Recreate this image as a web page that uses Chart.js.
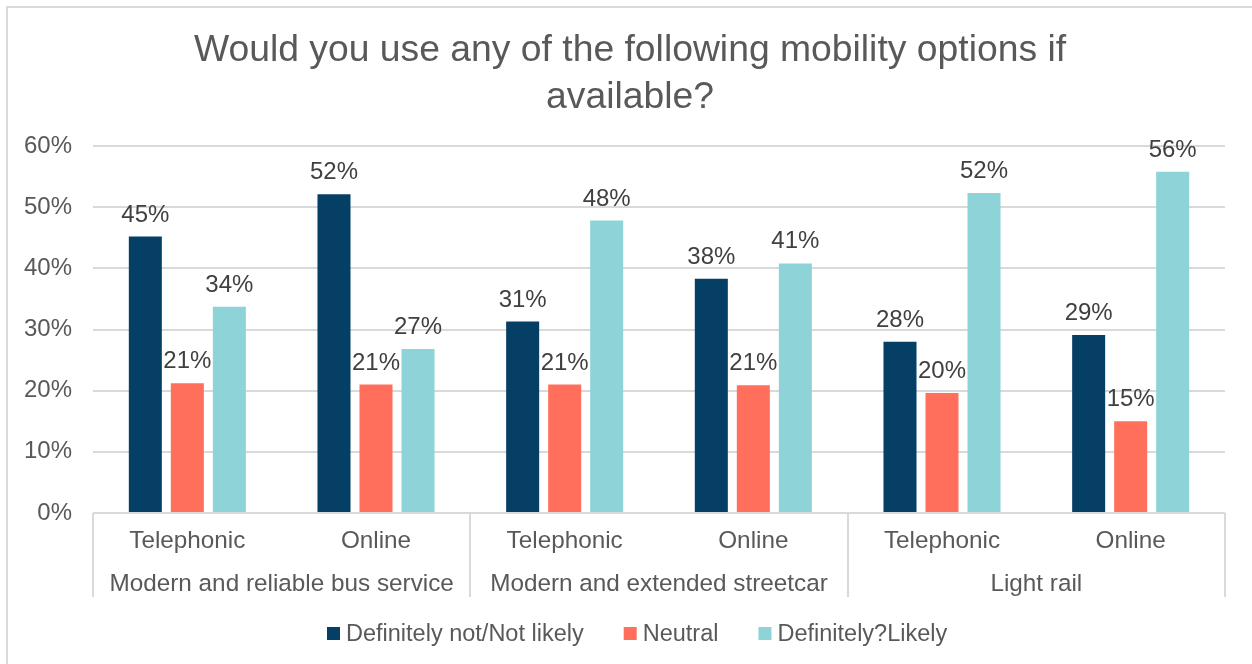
<!DOCTYPE html>
<html>
<head>
<meta charset="utf-8">
<script src="https://cdn.jsdelivr.net/npm/chart.js@4.4.1/dist/chart.umd.min.js"></script>
<style>
  html, body { margin: 0; padding: 0; background: #fff; overflow: hidden; }
  #wrap { position: relative; width: 1252px; height: 664px; }
  #frame { position: absolute; left: 6px; top: 6px; width: 1300px; height: 700px; border: 2px solid #d9d9d9; box-sizing: border-box; }
  canvas { position: absolute; left: 0; top: 0; }
</style>
</head>
<body>
<div id="wrap">
  <div id="frame"></div>
  <canvas id="c" width="1252" height="664"></canvas>
</div>
<script>
const titleLines = ['Would you use any of the following mobility options if', 'available?'];
const subCategories = ['Telephonic', 'Online', 'Telephonic', 'Online', 'Telephonic', 'Online'];
const groups = ['Modern and reliable bus service', 'Modern and extended streetcar', 'Light rail'];
const seriesNames = ['Definitely not/Not likely', 'Neutral', 'Definitely?Likely'];
const notLikely = [45.2, 52.1, 31.3, 38.3, 28.0, 29.1];
const neutral   = [21.2, 21.0, 21.0, 20.9, 19.6, 15.0];
const likely    = [33.7, 26.8, 47.8, 40.8, 52.3, 55.8];
const yTicks = [0, 10, 20, 30, 40, 50, 60];
const colors = ['#063F66', '#FF6F5B', '#8DD3D7'];

const FONT = 'Liberation Sans, Arial, sans-serif';
const TEXT = '#595959';

const titlePlugin = {
  id: 'titleDraw',
  afterDraw(chart) {
    const ctx = chart.ctx;
    ctx.save();
    ctx.fillStyle = TEXT;
    ctx.font = '37.3px ' + FONT;
    ctx.textAlign = 'center';
    ctx.textBaseline = 'alphabetic';
    ctx.fillText(titleLines[0], 630, 61);
    ctx.fillText(titleLines[1], 630, 108);
    ctx.restore();
  }
};

const labelPlugin = {
  id: 'barLabels',
  afterDatasetsDraw(chart) {
    const ctx = chart.ctx;
    ctx.save();
    ctx.fillStyle = '#404040';
    ctx.font = '24px ' + FONT;
    ctx.textAlign = 'center';
    ctx.textBaseline = 'alphabetic';
    chart.data.datasets.forEach((ds, i) => {
      const meta = chart.getDatasetMeta(i);
      meta.data.forEach((bar, j) => {
        ctx.fillText(Math.round(ds.data[j]) + '%', bar.x, bar.y - 15);
      });
    });
    ctx.restore();
  }
};

const groupPlugin = {
  id: 'groupAxis',
  afterDraw(chart) {
    const ctx = chart.ctx;
    const x = chart.scales.x;
    const top = chart.chartArea.bottom;
    const bottom = top + 84;
    ctx.save();
    ctx.strokeStyle = '#d9d9d9';
    ctx.lineWidth = 2;
    const half = (x.getPixelForValue(1) - x.getPixelForValue(0)) / 2;
    for (let g = 0; g <= groups.length; g++) {
      let px;
      if (g < groups.length) px = x.getPixelForValue(g * 2) - half;
      else px = x.getPixelForValue(groups.length * 2 - 1) + half;
      px = Math.round(px);
      ctx.beginPath();
      ctx.moveTo(px, top);
      ctx.lineTo(px, bottom);
      ctx.stroke();
    }
    ctx.fillStyle = TEXT;
    ctx.font = '24.3px ' + FONT;
    ctx.textAlign = 'center';
    ctx.textBaseline = 'middle';
    groups.forEach((g, i) => {
      const cx = (x.getPixelForValue(i * 2) + x.getPixelForValue(i * 2 + 1)) / 2;
      ctx.fillText(g, cx, top + 71);
    });
    ctx.restore();
  }
};

const legendPlugin = {
  id: 'bottomLegend',
  afterDraw(chart) {
    const ctx = chart.ctx;
    const y = 633.5;
    ctx.save();
    ctx.font = '23.5px ' + FONT;
    ctx.textBaseline = 'middle';
    ctx.textAlign = 'left';
    let xPos = 327;
    chart.data.datasets.forEach((ds) => {
      ctx.fillStyle = ds.backgroundColor;
      ctx.fillRect(xPos, y - 6.5, 13, 13);
      xPos += 19;
      const w = ctx.measureText(ds.label).width;
      ctx.fillStyle = TEXT;
      ctx.fillText(ds.label, xPos, y + 1);
      xPos += w + 40;
    });
    ctx.restore();
  }
};

new Chart(document.getElementById('c'), {
  type: 'bar',
  data: {
    labels: subCategories,
    datasets: [
      { label: seriesNames[0], data: notLikely, backgroundColor: colors[0] },
      { label: seriesNames[1], data: neutral, backgroundColor: colors[1] },
      { label: seriesNames[2], data: likely, backgroundColor: colors[2] }
    ]
  },
  options: {
    responsive: false,
    animation: false,
    devicePixelRatio: 1,
    categoryPercentage: 0.668,
    barPercentage: 0.786,
    layout: { padding: { left: 0, right: 27, top: 146, bottom: 67 } },
    plugins: {
      title: { display: false },
      tooltip: { enabled: false },
      legend: { display: false }
    },
    scales: {
      x: {
        grid: { display: false, drawTicks: false },
        border: { display: false },
        ticks: { color: TEXT, font: { family: FONT, size: 24.3 }, padding: 14, maxRotation: 0 },
        afterFit(s) { s.height = 84; }
      },
      y: {
        min: 0, max: 60,
        afterBuildTicks(s) { s.ticks = yTicks.map(v => ({ value: v })); },
        grid: { color: '#d9d9d9', lineWidth: 2, drawTicks: false },
        border: { display: false },
        ticks: { color: TEXT, font: { family: FONT, size: 24 }, padding: 21, callback: v => v + '%' },
        afterFit(s) { s.width = 93; }
      }
    }
  },
  plugins: [titlePlugin, labelPlugin, groupPlugin, legendPlugin]
});
</script>
</body>
</html>
